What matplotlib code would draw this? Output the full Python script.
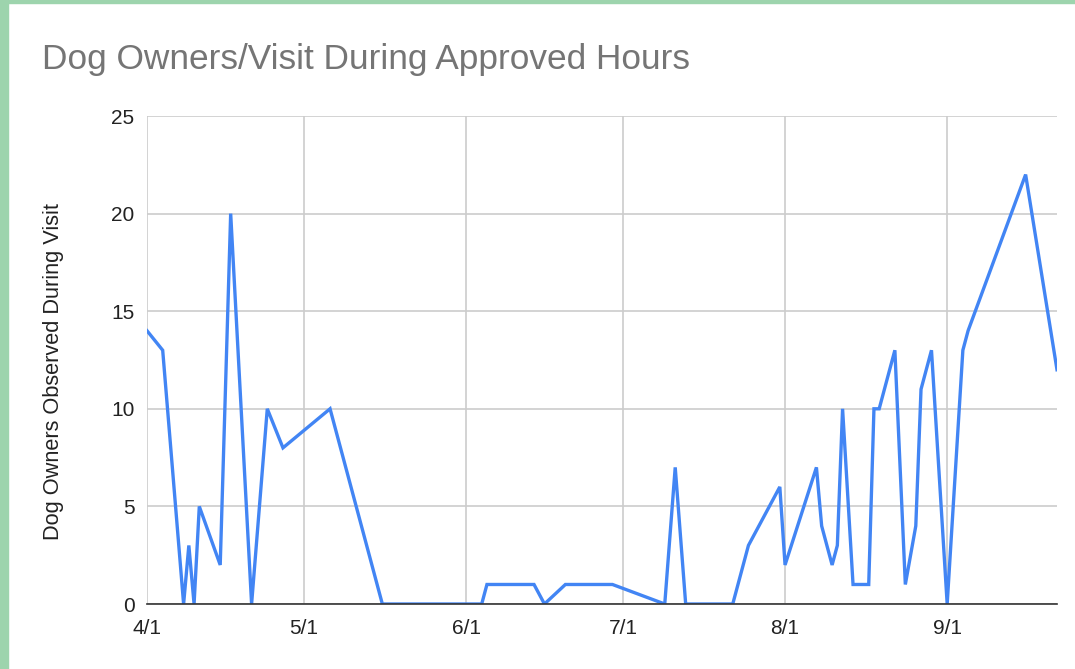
import matplotlib
matplotlib.use("Agg")
import matplotlib.pyplot as plt
import pandas as pd

dates = [
    "04-01", "04-04", "04-08", "04-09", "04-10", "04-11", "04-15", "04-17",
    "04-21", "04-24", "04-27", "05-06", "05-16", "06-04", "06-05", "06-14",
    "06-16", "06-20", "06-29", "07-09", "07-11", "07-13", "07-22", "07-25",
    "07-31", "08-01", "08-07", "08-08", "08-10", "08-11", "08-12", "08-14",
    "08-17", "08-18", "08-19", "08-22", "08-24", "08-26", "08-27", "08-29",
    "09-01", "09-04", "09-05", "09-16", "09-22",
]
owners = [
    14, 13, 0, 3, 0, 5, 2, 20,
    0, 10, 8, 10, 0, 0, 1, 1,
    0, 1, 1, 0, 7, 0, 0, 3,
    6, 2, 7, 4, 2, 3, 10, 1,
    1, 10, 10, 13, 1, 4, 11, 13,
    0, 13, 14, 22, 12,
]
month_ticks = ["04-01", "05-01", "06-01", "07-01", "08-01", "09-01"]
y_ticks = [0, 5, 10, 15, 20, 25]

YEAR = "2021-"
x = pd.to_datetime([YEAR + d for d in dates])
xt = pd.to_datetime([YEAR + d for d in month_ticks])

plt.rcParams["font.family"] = ["Liberation Sans", "DejaVu Sans"]

fig = plt.figure(figsize=(10.75, 6.69), dpi=100)

# green frame around the card
fig.patches.append(plt.Rectangle((0, 0), 8 / 1075, 1, transform=fig.transFigure,
                                 color="#9dd4ad", zorder=0))
fig.patches.append(plt.Rectangle((0, 1 - 3 / 669), 1, 3 / 669, transform=fig.transFigure,
                                 color="#9dd4ad", zorder=0))

ax = fig.add_axes([147 / 1075, 1 - 604 / 669, 910 / 1075, 488 / 669])
ax.plot(x, owners, color="#4285F4", linewidth=2.4, solid_joinstyle="miter")

ax.set_xlim(x[0], x[-1])
ax.set_ylim(0, 25)
ax.set_yticks(y_ticks)
ax.set_xticks(xt)
ax.set_xticklabels([f"{d.month}/{d.day}" for d in xt])
ax.tick_params(length=0, labelsize=15, colors="#222222")
ax.tick_params(axis="y", pad=9)
ax.tick_params(axis="x", pad=11)

ax.grid(True, color="#cccccc", linewidth=1.2)
ax.set_axisbelow(True)
for side in ["top", "right", "left"]:
    ax.spines[side].set_visible(False)
ax.spines["bottom"].set_color("#333333")
ax.spines["bottom"].set_linewidth(1.2)

fig.text(54 / 1075, 1 - 371 / 669, "Dog Owners Observed During Visit",
         rotation=90, fontsize=15.7, color="#222222", ha="center", va="center")
fig.text(42 / 1075, 1 - 60 / 669, "Dog Owners/Visit During Approved Hours",
         fontsize=25.4, color="#757575", va="center", ha="left")

fig.savefig("out.png", dpi=100)
